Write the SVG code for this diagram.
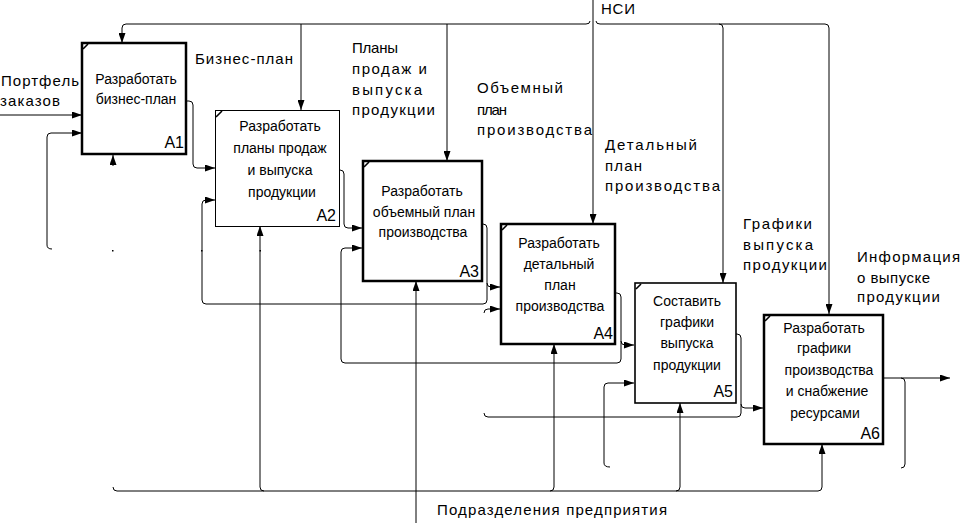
<svg xmlns="http://www.w3.org/2000/svg" width="961" height="523" viewBox="0 0 961 523">
<defs>
<marker id="ah" markerWidth="10" markerHeight="7" refX="10" refY="3.5" orient="auto" markerUnits="userSpaceOnUse">
<path d="M0,0 L10,3.5 L0,7 z" fill="#000"/>
</marker>
<style>
.box{fill:#fff;stroke:#000}
.thick{stroke-width:2.5}
.thin{stroke-width:1}
.mid{stroke-width:1.6}
.corner{stroke:#000;stroke-width:1.6;fill:none}
.c{fill:none;stroke:#000;stroke-width:1}
.a{marker-end:url(#ah)}
.t{font-family:"Liberation Sans",Arial,sans-serif;font-size:14px;fill:#000}
.m{text-anchor:middle}
.n{font-family:"Liberation Sans",Arial,sans-serif;font-size:16px;fill:#000;text-anchor:end}
.l{font-family:"Liberation Sans",Arial,sans-serif;font-size:15px;fill:#000}
</style>
</defs>
<rect x="0" y="0" width="961" height="523" fill="#fff"/>

<g id="connectors">
<path class="c a" d="M593,0 V224"/>
<path class="c a" d="M590,21 Q590,24 586,24 H126 Q122,24 122,28 V43"/>
<path class="c a" d="M596,21 Q596,24 600,24 H825 Q829,24 829,28 V314"/>
<path class="c a" d="M301,24 V110"/>
<path class="c a" d="M447,24 V161"/>
<path class="c a" d="M719,24 Q723,24 723,28 V283"/>
<path class="c a" d="M0,115 H82"/>
<path class="c a" d="M52,249 Q47,249 47,245 V137 Q47,133 51,133 H82"/>
<path class="c a" d="M186,101 H189 Q193,101 193,105 V164 Q193,168 197,168 H215"/>
<path class="c a" d="M113,166 V155"/>
<path class="c a" d="M339,170 H340 Q344,170 344,174 V224 Q344,228 348,228 H362"/>
<path class="c a" d="M482,224 H483 Q487,224 487,228 V283 Q487,287 491,287 H500"/>
<path class="c a" d="M487,283 V300 Q487,304 483,304 H206 Q202,304 202,300 V204 Q202,200 206,200 H215"/>
<path class="c a" d="M615,293 H617 Q621,293 621,297 V341 Q621,345 625,345 H634"/>
<path class="c a" d="M621,341 V359 Q621,363 617,363 H345 Q341,363 341,359 V252 Q341,248 345,248 H362"/>
<path class="c a" d="M484,313 Q484,309 488,309 H500"/>
<path class="c a" d="M736,334 H737 Q741,334 741,338 V404 Q741,408 745,408 H763"/>
<path class="c" d="M741,404 V413 Q741,417 737,417 H488 Q484,417 484,413"/>
<path class="c a" d="M610,467 Q604,467 604,463 V387 Q604,383 608,383 H634"/>
<path class="c a" d="M883,378 H950"/>
<path class="c" d="M901,378 Q905,378 905,382 V464 Q905,468 901,468"/>
<path class="c a" d="M416,523 V281"/>
<path class="c a" d="M113,487 Q113,491 117,491 H818 Q822,491 822,487 V444"/>
<path class="c a" d="M264,491 Q260,491 260,487 V226"/>
<path class="c a" d="M550,491 Q554,491 554,487 V344"/>
<path class="c a" d="M676,491 Q680,491 680,487 V403"/>
<rect x="112" y="250" width="1.5" height="1.5" fill="#000"/>
<rect x="201" y="250" width="1.5" height="1.5" fill="#000"/>
<rect x="259.5" y="250" width="1.5" height="1.5" fill="#000"/>
</g>

<g id="A1">
<rect class="box thick" x="82" y="43" width="104" height="111"/>
<path class="corner" d="M83,49 L88,44"/>
<text class="t m" x="136" y="84">Разработать</text>
<text class="t m" x="136" y="104">бизнес-план</text>
<text class="n" x="184" y="148">A1</text>
</g>

<g id="A2">
<rect class="box thin" x="215.5" y="110.5" width="124" height="116"/>
<path class="corner" d="M216,117 L222,111"/>
<text class="t m" x="280" y="131">Разработать</text>
<text class="t m" x="280" y="153">планы продаж</text>
<text class="t m" x="280" y="175">и выпуска</text>
<text class="t m" x="282" y="197">продукции</text>
<text class="n" x="336" y="221">A2</text>
</g>

<g id="A3">
<rect class="box thick" x="363" y="161" width="119" height="120"/>
<path class="corner" d="M364,167 L369,162"/>
<text class="t m" x="422" y="196">Разработать</text>
<text class="t m" x="424" y="217">объемный план</text>
<text class="t m" x="423" y="237">производства</text>
<text class="n" x="479" y="277">A3</text>
</g>

<g id="A4">
<rect class="box thick" x="501" y="224" width="114" height="120"/>
<path class="corner" d="M502,230 L507,225"/>
<text class="t m" x="559" y="248">Разработать</text>
<text class="t m" x="559" y="269">детальный</text>
<text class="t m" x="560" y="290">план</text>
<text class="t m" x="560" y="311">производства</text>
<text class="n" x="613" y="339">A4</text>
</g>

<g id="A5">
<rect class="box mid" x="635" y="283" width="101" height="120"/>
<path class="corner" d="M636,289 L641,284"/>
<text class="t m" x="687" y="306">Составить</text>
<text class="t m" x="687" y="327">графики</text>
<text class="t m" x="687" y="348">выпуска</text>
<text class="t m" x="687" y="370">продукции</text>
<text class="n" x="733" y="397">A5</text>
</g>

<g id="A6">
<rect class="box thick" x="764" y="315" width="119" height="129"/>
<path class="corner" d="M765,321 L770,316"/>
<text class="t m" x="824" y="333">Разработать</text>
<text class="t m" x="824" y="353">графики</text>
<text class="t m" x="829" y="375">производства</text>
<text class="t m" x="827" y="396">и снабжение</text>
<text class="t m" x="825" y="418">ресурсами</text>
<text class="n" x="880" y="439">A6</text>
</g>

<g id="labels">
<text class="l" x="1" y="86" textLength="78" lengthAdjust="spacing">Портфель</text>
<text class="l" x="0" y="106" textLength="60" lengthAdjust="spacing">заказов</text>
<text class="l" x="195" y="64" textLength="98" lengthAdjust="spacing">Бизнес-план</text>
<text class="l" x="352" y="53" textLength="46" lengthAdjust="spacing">Планы</text>
<text class="l" x="352" y="74" textLength="75" lengthAdjust="spacing">продаж и</text>
<text class="l" x="352" y="95" textLength="70" lengthAdjust="spacing">выпуска</text>
<text class="l" x="352" y="115" textLength="83" lengthAdjust="spacing">продукции</text>
<text class="l" x="477" y="93" textLength="86" lengthAdjust="spacing">Объемный</text>
<text class="l" x="477" y="115" textLength="30" lengthAdjust="spacing">план</text>
<text class="l" x="477" y="135" textLength="115" lengthAdjust="spacing">производства</text>
<text class="l" x="601" y="14" textLength="34" lengthAdjust="spacing">НСИ</text>
<text class="l" x="605" y="150" textLength="92" lengthAdjust="spacing">Детальный</text>
<text class="l" x="605" y="171" textLength="37" lengthAdjust="spacing">план</text>
<text class="l" x="605" y="191" textLength="115" lengthAdjust="spacing">производства</text>
<text class="l" x="743" y="229" textLength="69" lengthAdjust="spacing">Графики</text>
<text class="l" x="743" y="250" textLength="70" lengthAdjust="spacing">выпуска</text>
<text class="l" x="743" y="270" textLength="84" lengthAdjust="spacing">продукции</text>
<text class="l" x="857" y="262" textLength="103" lengthAdjust="spacing">Информация</text>
<text class="l" x="857" y="283" textLength="73" lengthAdjust="spacing">о выпуске</text>
<text class="l" x="857" y="302" textLength="83" lengthAdjust="spacing">продукции</text>
<text class="l" x="437" y="515" textLength="230" lengthAdjust="spacing">Подразделения предприятия</text>
</g>
</svg>
